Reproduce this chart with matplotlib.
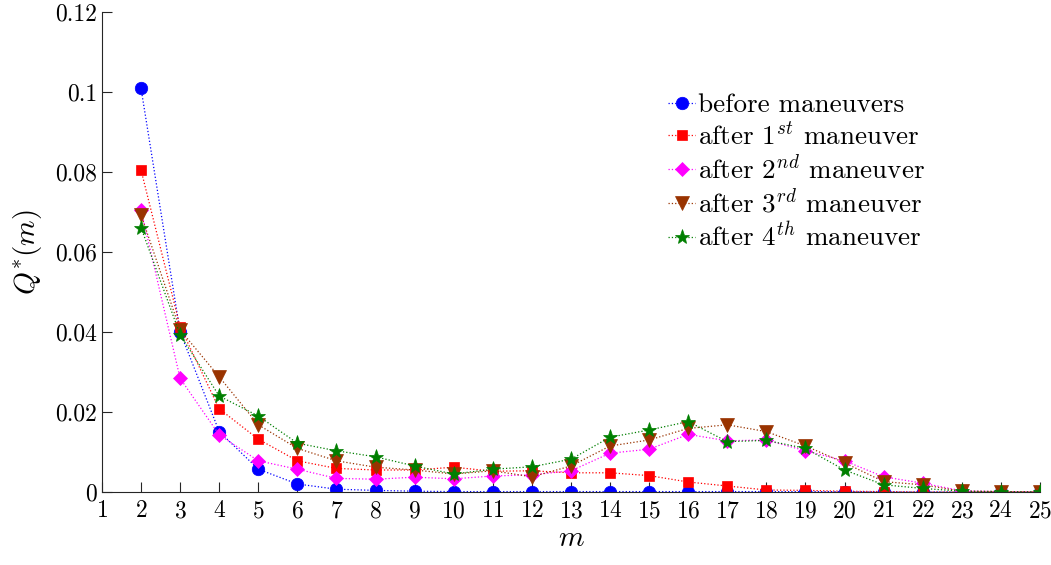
import numpy as np
import matplotlib
matplotlib.use("Agg")
import matplotlib.pyplot as plt
from matplotlib.ticker import FuncFormatter

plt.rcParams['font.family'] = 'serif'
plt.rcParams['font.serif'] = ['cmr10', 'DejaVu Serif']
plt.rcParams['mathtext.fontset'] = 'cm'
plt.rcParams['axes.formatter.use_mathtext'] = True

m = np.arange(2, 26)

before = [0.1009, 0.0400, 0.0151, 0.0057, 0.0020, 0.0007, 0.0004, 0.0002, 0.0001, 0.0001,
          0.0001, 0.0001, 0.0001, 0.0001, 0.0001, 0.0001, 0.0001, 0.0001, 0.0001, 0.0, 0.0,
          0.0, 0.0, 0.0]
after1 = [0.0805, 0.0413, 0.0208, 0.0132, 0.0078, 0.0059, 0.0055, 0.0055, 0.0062, 0.0052,
          0.0053, 0.0048, 0.0048, 0.0041, 0.0025, 0.0015, 0.0005, 0.0004, 0.0002, 0.0001,
          0.0, 0.0, 0.0, 0.0]
after2 = [0.0705, 0.0284, 0.0143, 0.0078, 0.0057, 0.0034, 0.0032, 0.0037, 0.0033, 0.0040,
          0.0043, 0.0053, 0.0097, 0.0107, 0.0144, 0.0128, 0.0130, 0.0103, 0.0078, 0.0038,
          0.0022, 0.0003, 0.0001, 0.0]
after3 = [0.0693, 0.0405, 0.0288, 0.0168, 0.0109, 0.0078, 0.0062, 0.0055, 0.0045, 0.0053,
          0.0038, 0.0065, 0.0115, 0.0130, 0.0159, 0.0168, 0.0151, 0.0115, 0.0073, 0.0026,
          0.0018, 0.0002, 0.0001, 0.0]
after4 = [0.0661, 0.0393, 0.0240, 0.0190, 0.0122, 0.0103, 0.0088, 0.0065, 0.0045, 0.0057,
          0.0063, 0.0082, 0.0137, 0.0155, 0.0176, 0.0126, 0.0129, 0.0109, 0.0055, 0.0018,
          0.0009, 0.0002, 0.0001, 0.0]

labels = ['before maneuvers', 'after 1$^{st}$ maneuver', 'after 2$^{nd}$ maneuver',
          'after 3$^{rd}$ maneuver', 'after 4$^{th}$ maneuver']
colors = ['#0000ff', '#ff0000', '#ff00ff', '#993300', '#007f00']
markers = ['o', 's', 'D', 'v', '*']
msizes = [9, 7.5, 7.5, 9.5, 11]

fig = plt.figure(figsize=(10.51, 5.65), dpi=100)
ax = fig.add_axes([0.097, 0.1292, 0.8925, 0.8496])

for ys, c, mk, ms, lab in zip([before, after1, after2, after3, after4], colors, markers, msizes, labels):
    ax.plot(m, ys, linestyle=':', linewidth=0.9, color=c, marker=mk, markersize=ms,
            markeredgewidth=0.5, markeredgecolor=c, label=lab)

ax.set_xlim(1, 25)
ax.set_ylim(0, 0.12)
ax.set_xticks(np.arange(1, 26))
ax.set_yticks(np.arange(0, 0.121, 0.02))
ax.yaxis.set_major_formatter(FuncFormatter(lambda v, p: '%g' % round(v, 4)))
ax.tick_params(direction='in', length=7, width=0.8, labelsize=17, colors='#262626',
               labelcolor='black')
ax.tick_params(axis='x', pad=6)
for s in ['top', 'right']:
    ax.spines[s].set_visible(False)
for s in ['left', 'bottom']:
    ax.spines[s].set_color('#262626')
    ax.spines[s].set_linewidth(0.8)

ax.set_xlabel('$m$', fontsize=21, labelpad=2)
ax.set_ylabel('$Q^{*}(m)$', fontsize=21, labelpad=8)

leg = ax.legend(loc='upper left', bbox_to_anchor=(0.592, 0.853), frameon=False, fontsize=19.5,
                handlelength=1.0, handletextpad=0.1, labelspacing=0.18, borderaxespad=0)

fig.savefig('out.png', dpi=100)
